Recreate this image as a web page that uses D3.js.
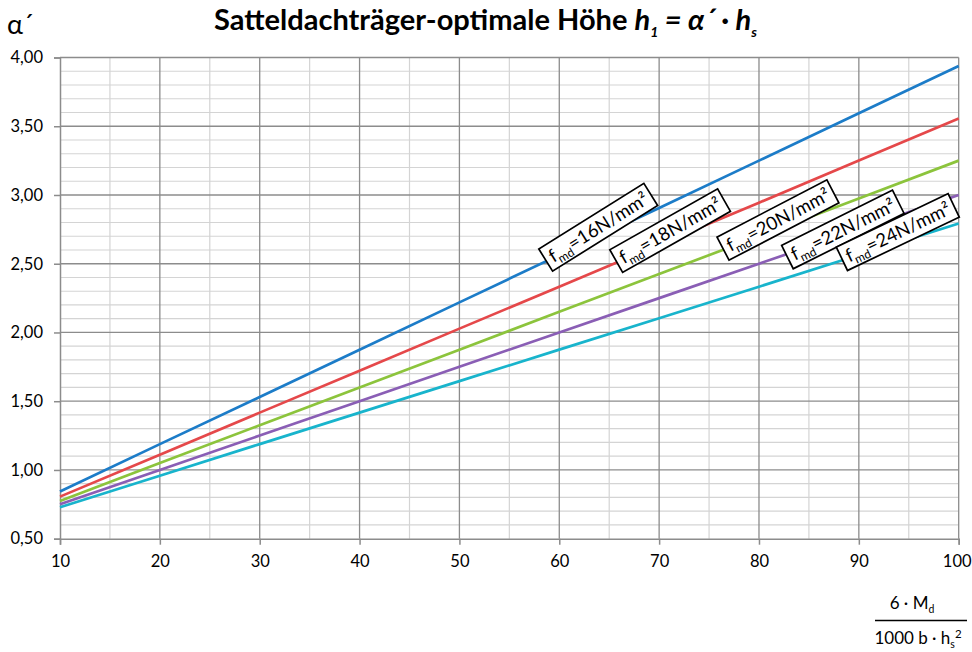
<!DOCTYPE html>
<html>
<head>
<meta charset="utf-8">
<script src="https://cdn.jsdelivr.net/npm/d3@7"></script>
<style>
  body { margin: 0; background: #fff; }
  svg { display: block; font-family: Lato, "Open Sans", sans-serif; }
</style>
</head>
<body>
<script>
// Bending parameter 6·Md / (1000 b·hs²)
const xValues = [10, 20, 30, 40, 50, 60, 70, 80, 90, 100];

// Optimal height factor α´ for each design strength f_md
const alphaF16 = [0.844, 1.188, 1.531, 1.875, 2.219, 2.563, 2.906, 3.250, 3.594, 3.938];
const alphaF18 = [0.806, 1.111, 1.417, 1.722, 2.028, 2.333, 2.639, 2.944, 3.250, 3.556];
const alphaF20 = [0.775, 1.050, 1.325, 1.600, 1.875, 2.150, 2.425, 2.700, 2.975, 3.250];
const alphaF22 = [0.750, 1.000, 1.250, 1.500, 1.750, 2.000, 2.250, 2.500, 2.750, 3.000];
const alphaF24 = [0.729, 0.958, 1.188, 1.417, 1.646, 1.875, 2.104, 2.333, 2.563, 2.792];

const strengthLabels = ["16", "18", "20", "22", "24"];
const xTickValues = [10, 20, 30, 40, 50, 60, 70, 80, 90, 100];
const yTickValues = [0.5, 1.0, 1.5, 2.0, 2.5, 3.0, 3.5, 4.0];

const seriesValues = [alphaF16, alphaF18, alphaF20, alphaF22, alphaF24];
const colors = ["#1c7cc8", "#e5484a", "#8cc43c", "#8a5eb5", "#18b4cc"];

// label placement (data coordinates of box centre, rotation in degrees)
const labelPlacement = [
  { x: 63.9, y: 2.765, angle: -32 },
  { x: 71.1, y: 2.741, angle: -29.5 },
  { x: 81.9, y: 2.818, angle: -27.5 },
  { x: 88.4, y: 2.749, angle: -26.5 },
  { x: 93.9, y: 2.73, angle: -25.5 }
];

const W = 972, H = 652;
const svg = d3.select("body").append("svg").attr("width", W).attr("height", H);

const x = d3.scaleLinear().domain([10, 100]).range([60, 958.7]);
const y = d3.scaleLinear().domain([0.5, 4]).range([538.7, 57.5]);

const locale = d3.formatLocale({ decimal: ",", thousands: ".", grouping: [3], currency: ["", " €"] });
const fmt = locale.format(".2f");

// grid: minor lines first, then major lines
const grid = svg.append("g");
const minorY = d3.range(6, 40).map(v => v / 10).filter(v => Math.round(v * 10) % 5 !== 0);
const minorX = d3.range(15, 100, 10);
grid.selectAll(".minY").data(minorY).join("line")
  .attr("x1", x(10)).attr("x2", x(100))
  .attr("y1", d => y(d)).attr("y2", d => y(d))
  .attr("stroke", "#d4d4d4").attr("stroke-width", 1.2);
grid.selectAll(".minX").data(minorX).join("line")
  .attr("x1", d => x(d)).attr("x2", d => x(d))
  .attr("y1", y(0.5)).attr("y2", y(4))
  .attr("stroke", "#d4d4d4").attr("stroke-width", 1.2);
grid.selectAll(".majY").data(yTickValues.slice(1)).join("line")
  .attr("x1", x(10)).attr("x2", x(100))
  .attr("y1", d => y(d)).attr("y2", d => y(d))
  .attr("stroke", "#8c8c8c").attr("stroke-width", 1.3);
grid.selectAll(".majX").data(xTickValues.slice(1)).join("line")
  .attr("x1", d => x(d)).attr("x2", d => x(d))
  .attr("y1", y(0.5)).attr("y2", y(4))
  .attr("stroke", "#8c8c8c").attr("stroke-width", 1.3);

// axes
const yAxis = svg.append("g").attr("transform", `translate(${x(10)},0)`)
  .call(d3.axisLeft(y).tickValues(yTickValues).tickFormat(fmt).tickSize(6).tickPadding(11));
const xAxis = svg.append("g").attr("transform", `translate(0,${y(0.5)})`)
  .call(d3.axisBottom(x).tickValues(xTickValues).tickFormat(d3.format("d")).tickSize(6).tickPadding(11));
[xAxis, yAxis].forEach(a => {
  a.select(".domain").attr("stroke", "#8c8c8c").attr("stroke-width", 1.5);
  a.selectAll(".tick line").attr("stroke", "#8c8c8c").attr("stroke-width", 1.5);
  a.selectAll(".tick text").attr("fill", "#000").style("font-family", "Lato, sans-serif").style("font-size", "16.5px");
});
// keep the last x tick label inside the page
xAxis.selectAll(".tick").filter(d => d === 100).select("text").attr("dx", -2);

// series lines
const line = d3.line().x((d, i) => x(xValues[i])).y(d => y(d));
svg.append("g").selectAll("path").data(seriesValues).join("path")
  .attr("d", line)
  .attr("fill", "none")
  .attr("stroke", (d, i) => colors[i])
  .attr("stroke-width", 2.7);

// strength labels in framed boxes
strengthLabels.forEach((s, i) => {
  const p = labelPlacement[i];
  const g = svg.append("g")
    .attr("transform", `translate(${x(p.x)},${y(p.y)}) rotate(${p.angle})`);
  const rect = g.append("rect");
  const t = g.append("text").attr("font-size", 18.5).attr("fill", "#000");
  t.append("tspan").text("f");
  t.append("tspan").attr("font-size", 12).attr("dy", 4.5).text("md");
  t.append("tspan").attr("dy", -4.5).text(`=${s}N/mm²`);
  const bb = t.node().getBBox();
  t.attr("x", -bb.width / 2).attr("y", 6.5);
  const w = bb.width + 10, h = 26;
  rect.attr("x", -w / 2).attr("y", -h / 2).attr("width", w).attr("height", h)
    .attr("fill", "#fff").attr("stroke", "#000").attr("stroke-width", 1.7);
});

// chart title
const title = svg.append("text").attr("y", 30).attr("font-weight", "bold").attr("font-size", 23).attr("fill", "#000");
title.append("tspan").text("Satteldachträger-optimale Höhe ");
title.append("tspan").attr("font-style", "italic").text("h");
title.append("tspan").attr("font-style", "italic").attr("font-size", 14).attr("dy", 7).text("1");
title.append("tspan").attr("font-style", "italic").attr("dy", -7).text(" = α´ · h");
title.append("tspan").attr("font-style", "italic").attr("font-size", 14).attr("dy", 7).text("s");
const tw = title.node().getComputedTextLength();
const targetW = 547;
title.attr("font-size", 23 * targetW / tw);
title.attr("x", 214);

// y axis title
svg.append("text").attr("x", 7).attr("y", 34).attr("font-size", 27).attr("fill", "#000").text("α´");

// x axis title as a fraction
const num = svg.append("text").attr("x", 912).attr("y", 609).attr("text-anchor", "middle").attr("font-size", 17).attr("fill", "#000");
num.append("tspan").text("6 · M");
num.append("tspan").attr("font-size", 10.5).attr("dy", 4).text("d");
svg.append("line").attr("x1", 875).attr("x2", 967).attr("y1", 620.5).attr("y2", 620.5)
  .attr("stroke", "#000").attr("stroke-width", 1.3);
const den = svg.append("text").attr("x", 918).attr("y", 644).attr("text-anchor", "middle").attr("font-size", 17).attr("fill", "#000");
den.append("tspan").text("1000 b · h");
den.append("tspan").attr("font-size", 10.5).attr("dy", 4).text("s");
den.append("tspan").attr("font-size", 11.5).attr("dy", -10).text("2");
</script>
</body>
</html>
